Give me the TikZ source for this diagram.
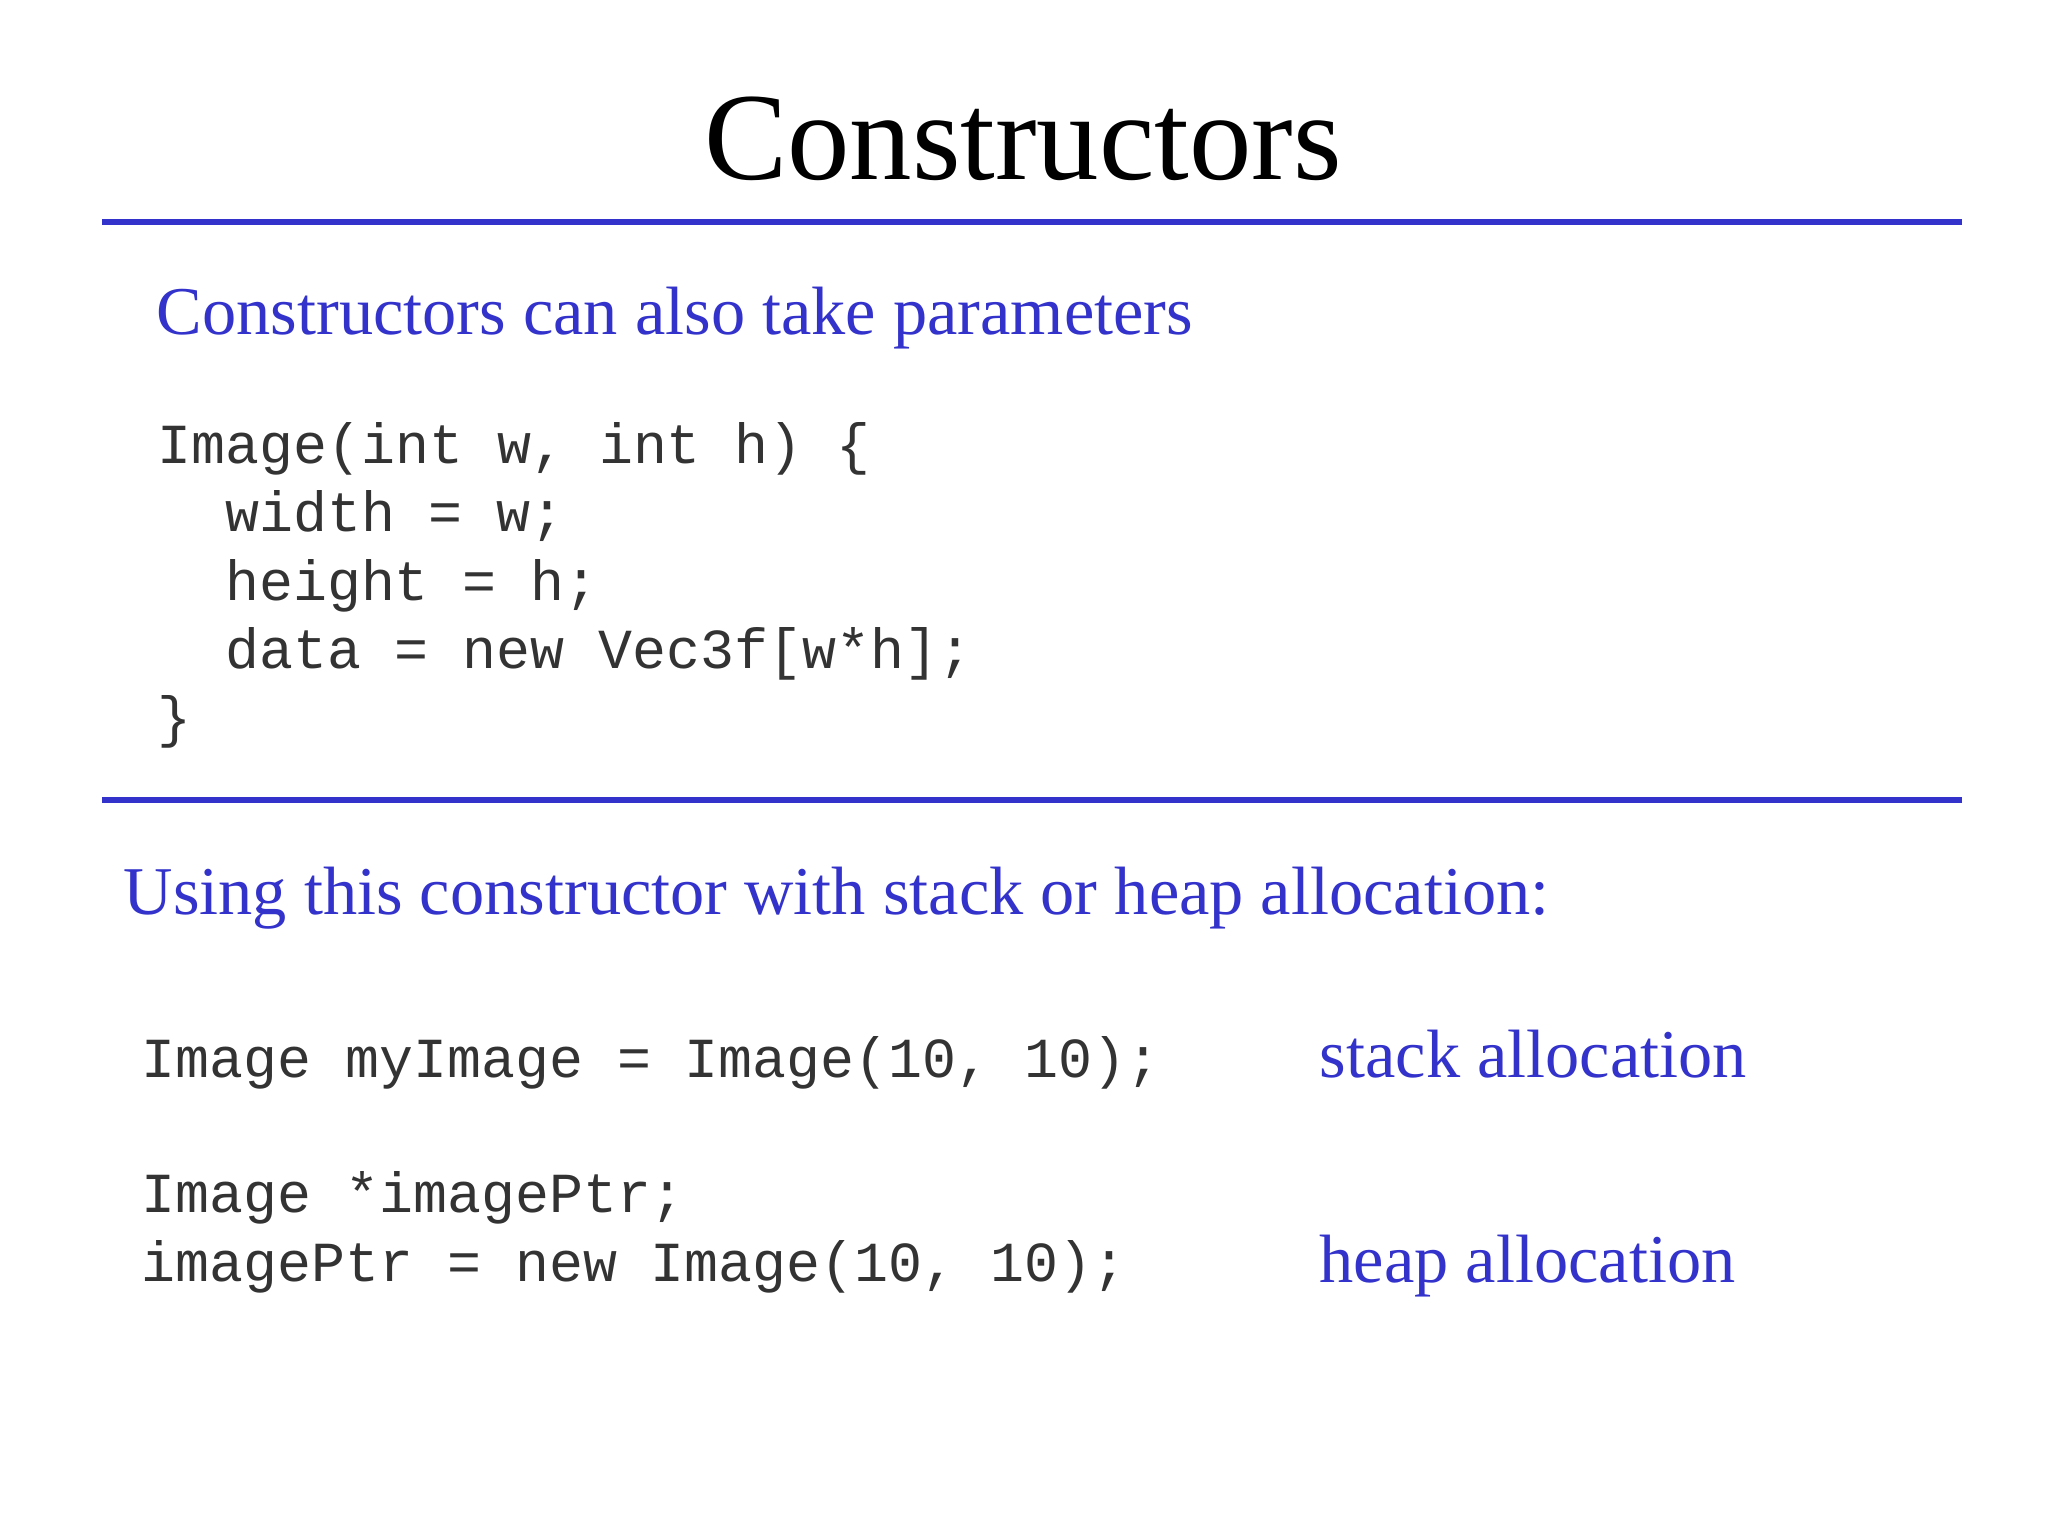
\documentclass[tikz,border=0pt]{standalone}
\usepackage{fontspec}
\setmainfont{Liberation Serif}
\setmonofont{Liberation Mono}
\definecolor{slideblue}{HTML}{3333CC}
\begin{document}
\begin{tikzpicture}[
    heading/.style={anchor=base west, inner sep=0pt, text=slideblue, font=\fontsize{19.45}{23}\selectfont},
    codeline/.style={anchor=base west, inner sep=0pt, text=black!80, font=\ttfamily\fontsize{16.1}{19}\selectfont},
    slideline/.style={slideblue, line width=1.9pt}]
    \useasboundingbox[fill=white] (0,0) rectangle (20.48,-15.36);
    % title and rules
    \node[anchor=base, inner sep=0pt, font=\fontsize{35.5}{40}\selectfont] (title) at (10.23,-1.80) {Constructors};
    \draw[slideline] (1.02,-2.22) -- (19.62,-2.22);
    \draw[slideline] (1.02,-8.00) -- (19.62,-8.00);
    % upper part
    \node[heading] (params) at (1.56,-3.35) {Constructors can also take parameters};
    \node[codeline] (c1) at (1.57,-4.64) {Image(int w, int h) \{};
    \node[codeline] (c2) at (2.245,-5.32) {width = w;};
    \node[codeline] (c3) at (2.245,-6.01) {height = h;};
    \node[codeline] (c4) at (2.245,-6.69) {data = new Vec3f[w*h];};
    \node[codeline] (c5) at (1.57,-7.37) {\}};
    % lower part
    \node[heading] (usage) at (1.23,-9.15) {Using this constructor with stack or heap allocation:};
    \node[codeline] (s1) at (1.41,-10.77) {Image myImage = Image(10, 10);};
    \node[codeline] (h1) at (1.41,-12.12) {Image *imagePtr;};
    \node[codeline] (h2) at (1.41,-12.81) {imagePtr = new Image(10, 10);};
    \node[heading] (stack) at (13.19,-10.77) {stack allocation};
    \node[heading] (heap) at (13.19,-12.82) {heap allocation};
\end{tikzpicture}
\end{document}
